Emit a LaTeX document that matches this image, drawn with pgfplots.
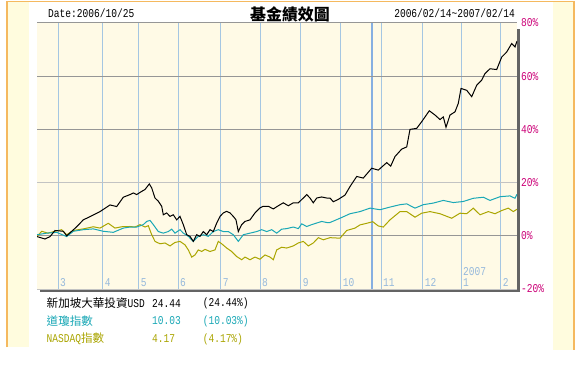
\documentclass[border=0pt]{standalone}
\usepackage{pgfplots}
\pgfplotsset{compat=1.18}
\usepackage{fontspec}
\setmainfont{Liberation Sans}
\newfontfamily\monof[FakeStretch=0.8]{Liberation Mono}
\newfontfamily\cjk{Noto Sans CJK TC}
\definecolor{orangeB}{RGB}{245,185,95}
\definecolor{stripY}{RGB}{255,252,222}
\definecolor{plotBG}{RGB}{255,250,230}
\definecolor{gridV}{RGB}{165,198,226}
\definecolor{markV}{RGB}{135,175,225}
\definecolor{gridH}{RGB}{150,150,150}
\definecolor{gridH2}{RGB}{195,195,195}
\definecolor{shadowC}{RGB}{100,100,100}
\definecolor{pctC}{RGB}{204,0,120}
\definecolor{monthC}{RGB}{150,185,220}
\definecolor{dowC}{RGB}{26,168,182}
\definecolor{nasC}{RGB}{170,165,0}
\begin{document}
\begin{tikzpicture}[x=1bp,y=1bp]
\useasboundingbox (0,0) rectangle (583,365);
\fill[white] (0,0) rectangle (583,365);
\fill[stripY] (7,18) rectangle (29,363.5);
\fill[stripY] (553,15) rectangle (574,363.5);
\draw[orangeB, line width=1.5bp] (7,18) -- (7,363.5) -- (574,363.5) -- (574,15);
\fill[shadowC] (40,73) rectangle (520,76);
\fill[shadowC] (517,73) rectangle (520,336);
\begin{axis}[
  at={(37bp,76bp)}, anchor=south west,
  scale only axis, width=480bp, height=266bp,
  xmin=0, xmax=480, ymin=-20, ymax=80,
  axis background/.style={fill=plotBG},
  axis line style={draw=none},
  xtick={21,65.7,101.7,141,183.7,223,263.7,303.7,344,385.7,424,463.7},
  xticklabels={3,4,5,6,7,8,9,10,11,12,1,2},
  xmajorgrids,
  grid style={gridV, line width=1bp},
  extra x ticks={334.7},
  extra x tick labels={},
  extra x tick style={grid=major, major grid style={markV, line width=2bp}},
  xticklabel style={anchor=south west, font=\monof\fontsize{12}{12}\selectfont, text=monthC, inner sep=2bp},
  ytick={-20,0,20,40,60,80},
  yticklabels={{-20\%},{0\%},{20\%},{40\%},{60\%},{80\%}},
  yticklabel pos=right,
  yticklabel style={anchor=west, text=pctC, font=\monof\fontsize{12}{12}\selectfont, inner sep=4bp},
  major tick length=0pt,
  tick style={draw=none},
]
\draw[gridH, line width=1bp] (axis cs:0,80) -- (axis cs:480,80);
\draw[gridH, line width=1bp] (axis cs:0,60) -- (axis cs:480,60);
\draw[gridH, line width=1bp] (axis cs:0,40) -- (axis cs:480,40);
\draw[gridH2, line width=1.6bp] (axis cs:0,20) -- (axis cs:480,20);
\draw[gridH, line width=1bp] (axis cs:0,0) -- (axis cs:480,0);
\draw[gridH2, line width=0.8bp] (axis cs:0,-20) -- (axis cs:480,-20);
% NASDAQ
\addplot[nasC, line width=1bp, no marks] coordinates {
(0,-0.3) (4.7,1.7) (11,1) (18,1.7) (24.7,2.3) (29.7,0.4) (36.3,2) (46.3,2.6)
(56.3,3.4) (63,2.9) (71.3,4.7) (78,2.9) (84.7,3.4)
(93,3.5) (98,3.3) (103,4.2) (108,3.3) (111.3,3.8) (114.7,0.4) (118,-2.1) (123,-3)
(128,-2.7) (133,-3.8) (138,-2.5) (143,-2.1) (148,-3.4) (151.3,-5.3) (154.7,-8) (158,-7.2)
(161.3,-5.3) (164.7,-5.9) (168,-5.1) (173,-5.9) (178,-5.3) (181.3,-2.1) (184.7,-3)
(189.7,-4.6) (194.7,-5.9) (199.7,-7.8) (204.7,-9) (208,-8) (213,-9) (218,-8) (223,-8.8)
(228,-7.2) (233,-8) (236.3,-9) (239.7,-5.3) (244.7,-4.3) (249.7,-4.6) (256.3,-3.8)
(261.3,-2.7) (266.3,-2.1) (271.3,-3.8) (276.3,-2.7) (281.3,-0.7) (286.3,-1.5) (293,-0.7)
(303,-0.9) (309.7,2) (318,2.9) (323,4.1) (329.7,4.7) (335.7,5.3) (341.3,3.7) (346.3,3.3)
(353,6) (363,9.1) (369.7,9.1) (378,7) (384.7,8.5) (393,9.1) (403,8.3) (414.7,6.6)
(423,8.5) (429.7,8.3) (436.3,10.4) (443,7.9) (451.3,9.1) (458,8.3) (464.7,9.5)
(471.3,10.4) (476.3,9.1) (480,10)
};
% Dow
\addplot[dowC, line width=1bp, no marks] coordinates {
(0,0.4) (9.7,1) (19.7,1.3) (29.7,-0.3) (36.3,1.7) (46.3,2.3) (56.3,2.6) (66.3,1.7)
(76.3,1.3) (86.3,2.9)
(93,3.3) (99.7,3.3) (106.3,4.2) (109.7,5.4) (113,5.8) (116.3,4.2) (121.3,1.6) (126.3,1)
(131.3,1.6) (134.7,2.5) (138,1) (143,2.3) (146.3,1) (151.3,-0.2) (156.3,-2.1) (161.3,-0.2)
(166.3,0.4) (171.3,-0.2) (176.3,1.6) (181.3,2.3) (186.3,1.6) (191.3,1.6) (196.3,0.4)
(201.3,-2.1) (206.3,0.4) (213,1) (219.7,1.6) (224.7,2.3) (229.7,1.6) (234.7,2.3)
(239.7,1) (244.7,2.5) (249.7,2.7) (256.3,3.3) (261.3,2.7) (264.7,4.5) (269.7,3.5)
(274.7,4.2) (279.7,4.8) (284.7,5.4) (289.7,5) (293,5)
(303,6.6) (313,8.3) (323,9.1) (333,10.4) (343,9.8) (353,10.8) (363,11.7) (369.7,12)
(378,10.4) (386.3,11.7) (396.3,12.3) (406.3,13.3) (416.3,12.5) (426.3,12.9) (436.3,14.1)
(446.3,14.5) (453,13.3) (463,14.7) (473,15) (478,14.1) (480,15.6)
};
% Fund
\addplot[black, line width=1bp, no marks] coordinates {
(0,-0.3) (8,-1.2) (13,-0.3) (18,2) (26.3,1.7) (29.7,0) (34.7,1.7) (39.7,3.4) (46.3,6)
(53,7.2) (63,9.1) (73,11.6) (79.7,11) (86.3,14.5)
(93,15.5) (96.3,16.1) (99.7,15.5) (104.7,16.7) (108,17.4) (112.3,19.5) (114.7,18)
(118,14.2) (121.3,13) (124.7,11.1) (126.3,7.9) (129.7,8.6) (133,7.3) (136.3,7.9)
(139.7,6) (143,7.3) (146.3,4.2) (149.7,0.4) (153,-0.2) (156.3,-2.1) (159.7,0.4)
(163,-0.2) (166.3,1.6) (169.7,0.4) (173,2.3) (176.3,1.6) (179.7,4.8) (183,7.3)
(186.3,8.6) (189.7,9.2) (193,8.6) (196.3,7.3) (199,6) (201.3,1.6) (204.7,4.2) (208,5.4)
(213,6) (218,8.6) (223,10.5) (226.3,11.1) (231.3,11.1) (236.3,10.1) (241.3,11.3)
(246.3,12.4) (251.3,11.3) (256.3,12.4) (261.3,12.4) (266.3,14.2) (269.7,15.5)
(273,14.2) (276.3,12.4) (279.7,14.2) (284.7,14.6) (289.7,14.2) (293,14.2)
(296.3,12.8) (301.3,13.7) (308,15.3) (313,18.5) (319.7,22.3) (326.3,21.7) (334.7,25.4)
(341.3,24.7) (349.7,27.5) (353.7,26.2) (358,29.8) (364.7,32.6) (369.7,33.4) (373,40)
(379.7,40.4) (384.7,42.9) (392.3,47) (398,45.4) (403,43.7) (406.3,44.7) (409,40.8)
(413,45.4) (418,46.6) (421.3,49.8) (424,55.4) (429.7,54.7) (434.7,52.3) (439.7,56.6)
(444.7,58.5) (448,61) (453,62.8) (459.7,62.5) (464.7,67.2) (469.7,69.1) (474.7,72.3)
(478,71) (480,73.2)
};
\node[anchor=south west, inner sep=2bp, text=monthC, font=\monof\fontsize{12}{12}\selectfont] at ([yshift=11bp]axis cs:424,-20) {2007};
\end{axis}
% header
\node[anchor=west, inner sep=0pt, font=\monof\fontsize{12}{12}\selectfont] at (48,352) {Date:2006/10/25};
\node[inner sep=0pt, font=\cjk\bfseries\fontsize{16}{16}\selectfont] at (290,351) {基金績效圖};
\node[anchor=east, inner sep=0pt, font=\monof\fontsize{12}{12}\selectfont] at (515,352) {2006/02/14\textasciitilde2007/02/14};
% legend rows
\node[anchor=west, inner sep=0pt, font=\fontsize{12}{12}\selectfont] at (46.5,62) {{\cjk\fontsize{11.6}{12}\selectfont 新加坡大華投資}{\monof USD}};
\node[anchor=west, inner sep=0pt, font=\monof\fontsize{12}{12}\selectfont] at (152,62) {24.44};
\node[anchor=west, inner sep=0pt, font=\monof\fontsize{12}{12}\selectfont] at (202.6,62) {(24.44\%)};
\node[anchor=west, inner sep=0pt, text=dowC, font=\fontsize{12}{12}\selectfont] at (46.5,44) {{\cjk\fontsize{11.6}{12}\selectfont 道瓊指數}};
\node[anchor=west, inner sep=0pt, text=dowC, font=\monof\fontsize{12}{12}\selectfont] at (152,44) {10.03};
\node[anchor=west, inner sep=0pt, text=dowC, font=\monof\fontsize{12}{12}\selectfont] at (202.6,44) {(10.03\%)};
\node[anchor=west, inner sep=0pt, text=nasC, font=\fontsize{12}{12}\selectfont] at (46.5,26) {{\monof NASDAQ}{\cjk\fontsize{11.6}{12}\selectfont 指數}};
\node[anchor=west, inner sep=0pt, text=nasC, font=\monof\fontsize{12}{12}\selectfont] at (152,26) {4.17};
\node[anchor=west, inner sep=0pt, text=nasC, font=\monof\fontsize{12}{12}\selectfont] at (202.6,26) {(4.17\%)};
\end{tikzpicture}
\end{document}
